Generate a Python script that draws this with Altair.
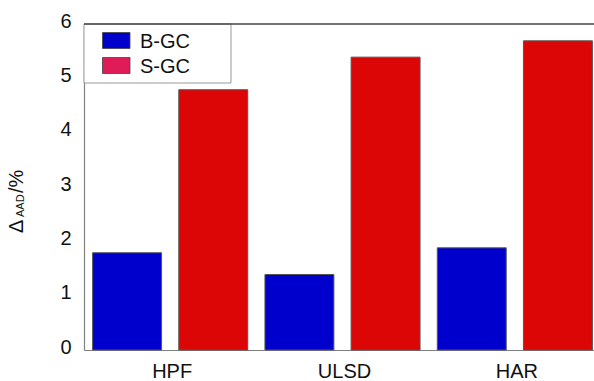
import altair as alt
import pandas as pd

# Values shown in the chart
categories = ["HPF", "ULSD", "HAR"]
series = ["B-GC", "S-GC"]
b_gc = [1.79, 1.39, 1.88]
s_gc = [4.79, 5.39, 5.69]
y_ticks = [0, 1, 2, 3, 4, 5, 6]

# Styling
BLUE = "#0000CC"
RED = "#DD0606"
CRIMSON = "#DF1B58"
FONT = "Liberation Sans"
TEXT = "#111111"
W, H = 510, 326

rows = [
    {"category": c, "series": s, "value": v}
    for s, vals in zip(series, [b_gc, s_gc])
    for c, v in zip(categories, vals)
]
df = pd.DataFrame(rows)
one = pd.DataFrame({"k": [0]})

bars = alt.Chart(df).mark_bar(stroke="#555555", strokeWidth=1).encode(
    x=alt.X(
        "category:N", sort=categories, title=None,
        scale=alt.Scale(range=[0, 517], paddingInner=0, paddingOuter=0),
        axis=alt.Axis(labelAngle=0, ticks=False, labelPadding=11, labelFontSize=20,
                      labelFont=FONT, labelColor=TEXT, domainColor="#808080",
                      domainWidth=1.2, labelOffset=2),
    ),
    xOffset=alt.XOffset("series:N", sort=series,
                        scale=alt.Scale(paddingInner=0.2, paddingOuter=0.1)),
    y=alt.Y(
        "value:Q", title=None,
        scale=alt.Scale(domain=[0, 6], nice=False, zero=True),
        axis=alt.Axis(values=y_ticks, ticks=False, grid=False, labelPadding=13,
                      labelFontSize=20, labelFont=FONT, labelColor=TEXT,
                      domainColor="#808080", domainWidth=1.2, labelOffset=-3, format="d"),
    ),
    fill=alt.Fill("series:N", scale=alt.Scale(domain=series, range=[BLUE, RED]), legend=None),
)

# Legend box, drawn by hand so the swatches keep their own colours
legend_box = alt.Chart(one).mark_rect(fill="white", stroke="#999999", strokeWidth=1).encode(
    x=alt.value(0), x2=alt.value(147), y=alt.value(0), y2=alt.value(59)
)
legend_layers = []
for i, (label, col) in enumerate(zip(series, [BLUE, CRIMSON])):
    top = 8.5 + 25 * i
    legend_layers.append(
        alt.Chart(one).mark_rect(fill=col, stroke="#444444", strokeWidth=0.8).encode(
            x=alt.value(18.5), x2=alt.value(46), y=alt.value(top), y2=alt.value(top + 16)
        )
    )
    legend_layers.append(
        alt.Chart(one).mark_text(text=label, align="left", baseline="alphabetic",
                                 fontSize=20, font=FONT, color=TEXT).encode(
            x=alt.value(56), y=alt.value(24 + 25 * i)
        )
    )

# Top frame line
frame_top = alt.Chart(one).mark_rule(color="#444444", strokeWidth=1.5).encode(
    x=alt.value(0), x2=alt.value(W), y=alt.value(0)
)

# Y title: Δ with subscript AAD, then /%
def title_piece(txt, size, xpos, ypos):
    return alt.Chart(one).mark_text(text=txt, angle=270, align="left", baseline="alphabetic",
                                    fontSize=size, font=FONT, color=TEXT).encode(
        x=alt.value(xpos), y=alt.value(ypos)
    )

y_title = [
    title_piece("Δ", 20, -61, 209),
    title_piece("AAD", 11, -60, 193),
    title_piece("/%", 20, -61, 169),
]

chart = alt.layer(
    bars, legend_box, *legend_layers, frame_top, *y_title
).properties(
    width=W, height=H,
    autosize=alt.AutoSizeParams(type="none"),
    padding={"left": 84, "top": 24, "right": 0, "bottom": 31},
).configure_view(stroke=None)

chart.save("out.html", embed_options={"renderer": "svg", "actions": False})
